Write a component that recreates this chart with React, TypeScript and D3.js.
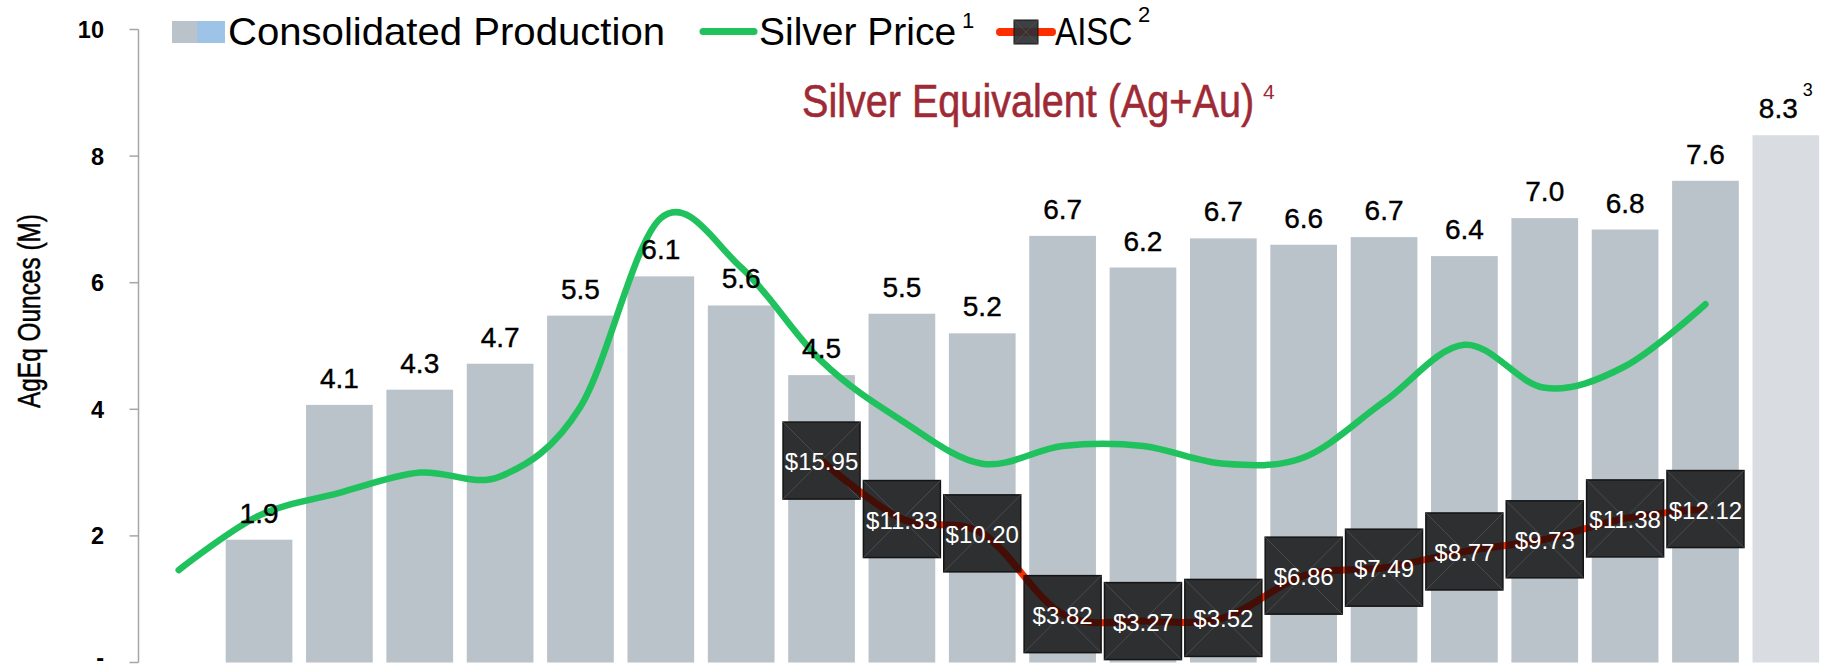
import React from 'react';
import * as d3 from 'd3';

// ---------- data ----------
const categories = [
  '2005', '2006', '2007', '2008', '2009', '2010', '2011', '2012', '2013', '2014',
  '2015', '2016', '2017', '2018', '2019', '2020', '2021', '2022', '2023', '2024', '2025G',
];
// Consolidated production (AgEq Moz); no bar for the first category
const production: (number | null)[] = [
  null, 1.94, 4.07, 4.31, 4.72, 5.48, 6.10, 5.64, 4.54, 5.51,
  5.20, 6.74, 6.24, 6.70, 6.60, 6.72, 6.42, 7.02, 6.84, 7.61, 8.33,
];
const guidanceCategories = ['2025G'];
// Silver price ($/oz), secondary (hidden) axis
const silverPrice: (number | null)[] = [
  7.3, 11.6, 13.4, 15.0, 14.7, 20.2, 35.1, 31.2, 23.8, 19.1,
  15.7, 17.1, 17.1, 15.7, 16.2, 20.6, 25.1, 21.7, 23.4, 28.3, null,
];
// AISC ($/oz), secondary (hidden) axis
const aisc: (number | null)[] = [
  null, null, null, null, null, null, null, null, 15.95, 11.33,
  10.20, 3.82, 3.27, 3.52, 6.86, 7.49, 8.77, 9.73, 11.38, 12.12, null,
];
const yTicks = [0, 2, 4, 6, 8, 10];
const yTickLabels = ['-', '2', '4', '6', '8', '10'];
const secondaryDomain = [0, 50];

const legendItems = ['Consolidated Production', 'Silver Price', 'AISC'];
const legendSup = ['', '1', '2'];
const title = 'Silver Equivalent (Ag+Au)';
const titleSup = '4';
const yAxisTitle = 'AgEq Ounces (M)';
const guidanceSup = '3';

// ---------- styles ----------
const BAR = '#bac2ca';
const BAR_LIGHT = '#d9dde1';
const GREEN = '#1fc25c';
const RED = '#ff2e00';
const BOX = '#2e2f31';
const FONT = '"Liberation Sans", Arial, sans-serif';

export default function App() {
  const W = 1826;
  const H = 671;
  const left = 138.5;
  const top = 29.5;
  const bottom = 662.5;

  const x = d3
    .scaleBand<string>()
    .domain(categories)
    .range([left, W])
    .paddingInner(0.17)
    .paddingOuter(0.085);
  const y = d3.scaleLinear().domain([0, 10]).range([bottom, top]);
  const y2 = d3.scaleLinear().domain(secondaryDomain).range([bottom, top]);
  const cx = (c: string) => (x(c) as number) + x.bandwidth() / 2;

  const silverPts = categories
    .map((c, i) => ({ c, v: silverPrice[i] }))
    .filter((d) => d.v != null) as { c: string; v: number }[];
  const aiscPts = categories
    .map((c, i) => ({ c, v: aisc[i] }))
    .filter((d) => d.v != null) as { c: string; v: number }[];

  const line = d3
    .line<{ c: string; v: number }>()
    .x((d) => cx(d.c))
    .y((d) => y2(d.v))
    .curve(d3.curveCardinal.tension(0));

  const silverPath = line(silverPts) || '';
  const aiscPath = line(aiscPts) || '';
  const BOXS = 77;
  const fmt = d3.format('.1f');

  return (
    <div style={{ position: 'absolute', left: 0, top: 0 }}>
      <svg width={W} height={H} style={{ display: 'block', background: '#fff' }}>
        <defs>
          <clipPath id="boxclip">
            {aiscPts.map((d) => (
              <rect
                key={d.c}
                x={cx(d.c) - BOXS / 2}
                y={y2(d.v) - BOXS / 2}
                width={BOXS}
                height={BOXS}
              />
            ))}
          </clipPath>
        </defs>

        {/* bars */}
        {categories.map((c, i) =>
          production[i] == null ? null : (
            <rect
              key={c}
              x={x(c)}
              y={y(production[i] as number)}
              width={x.bandwidth()}
              height={bottom - y(production[i] as number)}
              fill={guidanceCategories.includes(c) ? BAR_LIGHT : BAR}
            />
          )
        )}

        {/* y axis */}
        <line x1={left} x2={left} y1={top} y2={bottom} stroke="#a6a6a6" strokeWidth={1.5} />
        {yTicks.map((t, i) => (
          <g key={t}>
            <line x1={left - 9} x2={left} y1={y(t)} y2={y(t)} stroke="#a6a6a6" strokeWidth={1.5} />
            <text
              x={104}
              y={t === 0 ? 666 : y(t) + 8.5}
              textAnchor="end"
              fontFamily={FONT}
              fontWeight="bold"
              fontSize={23.5}
              fill="#000"
            >
              {yTickLabels[i]}
            </text>
          </g>
        ))}
        <text
          transform={`translate(40, ${(top + bottom) / 2 - 35}) rotate(-90)`}
          textAnchor="middle"
          fontFamily={FONT}
          fontSize={32}
          textLength={194}
          lengthAdjust="spacingAndGlyphs"
          fill="#000"
          stroke="#000"
          strokeWidth={0.5}
        >
          {yAxisTitle}
        </text>

        {/* silver price line */}
        <path d={silverPath} fill="none" stroke={GREEN} strokeWidth={6.5} strokeLinecap="round" strokeLinejoin="round" />

        {/* AISC line + markers */}
        <path d={aiscPath} fill="none" stroke={RED} strokeWidth={7} strokeLinejoin="round" />
        {aiscPts.map((d) => {
          const bx = cx(d.c) - BOXS / 2;
          const by = y2(d.v) - BOXS / 2;
          return (
            <g key={d.c}>
              <rect x={bx} y={by} width={BOXS} height={BOXS} fill={BOX} stroke="#141414" strokeWidth={1.5} />
              <line x1={bx} y1={by} x2={bx + BOXS} y2={by + BOXS} stroke="#4a4b4d" strokeWidth={1} />
              <line x1={bx + BOXS} y1={by} x2={bx} y2={by + BOXS} stroke="#4a4b4d" strokeWidth={1} />
            </g>
          );
        })}
        <path
          d={aiscPath}
          fill="none"
          stroke="#440d05"
          strokeWidth={7}
          strokeLinejoin="round"
          clipPath="url(#boxclip)"
        />
        {aiscPts.map((d) => (
          <text
            key={d.c}
            x={cx(d.c)}
            y={y2(d.v) + 1}
            textAnchor="middle"
            dominantBaseline="central"
            fontFamily={FONT}
            fontSize={24}
            fill="#fff"
          >
            {'$' + d.v.toFixed(2)}
          </text>
        ))}

        {/* bar labels */}
        {categories.map((c, i) =>
          production[i] == null ? null : (
            <text
              key={c}
              x={cx(c)}
              y={y(production[i] as number) - 17}
              textAnchor="middle"
              fontFamily={FONT}
              fontSize={28}
              fill="#000"
              stroke="#000"
              strokeWidth={0.4}
            >
              {fmt(production[i] as number)}
              {guidanceCategories.includes(c) ? (
                <tspan fontSize={18} dx={5} dy={-22} strokeWidth={0}>
                  {guidanceSup}
                </tspan>
              ) : null}
            </text>
          )
        )}

        {/* title (condensed by horizontal scale) */}
        <text
          transform="translate(802, 117) scale(0.8605, 1)"
          fontFamily={FONT}
          fontSize={46}
          fill="#9e2a36"
          stroke="#9e2a36"
          strokeWidth={0.6}
        >
          {title}
        </text>
        <text x={1263} y={99} fontFamily={FONT} fontSize={21} fill="#9e2a36">
          {titleSup}
        </text>

        {/* legend */}
        <rect x={172} y={21} width={25} height={22} fill={BAR} />
        <rect x={197} y={21} width={28} height={22} fill="#9dc3e6" />
        <text x={228} y={45} fontFamily={FONT} fontSize={39.5} textLength={437} lengthAdjust="spacingAndGlyphs" fill="#000">
          {legendItems[0]}
        </text>

        <line x1={703} x2={754} y1={31.5} y2={31.5} stroke={GREEN} strokeWidth={7} strokeLinecap="round" />
        <text x={759} y={45} fontFamily={FONT} fontSize={39} fill="#000">
          {legendItems[1]}
        </text>
        <text x={962} y={28} fontFamily={FONT} fontSize={22} fill="#000">
          {legendSup[1]}
        </text>

        <line x1={1000} x2={1052} y1={32} y2={32} stroke={RED} strokeWidth={8} strokeLinecap="round" />
        <rect x={1014} y={20} width={24} height={24} fill={BOX} fillOpacity={0.92} stroke="#141414" strokeWidth={1} />
        <line x1={1014} y1={20} x2={1038} y2={44} stroke="#4a4b4d" strokeWidth={1} />
        <line x1={1038} y1={20} x2={1014} y2={44} stroke="#4a4b4d" strokeWidth={1} />
        <text transform="translate(1055, 45) scale(0.84, 1)" fontFamily={FONT} fontSize={39.5} fill="#000">
          {legendItems[2]}
        </text>
        <text x={1138} y={22} fontFamily={FONT} fontSize={22} fill="#000">
          {legendSup[2]}
        </text>
      </svg>
    </div>
  );
}
